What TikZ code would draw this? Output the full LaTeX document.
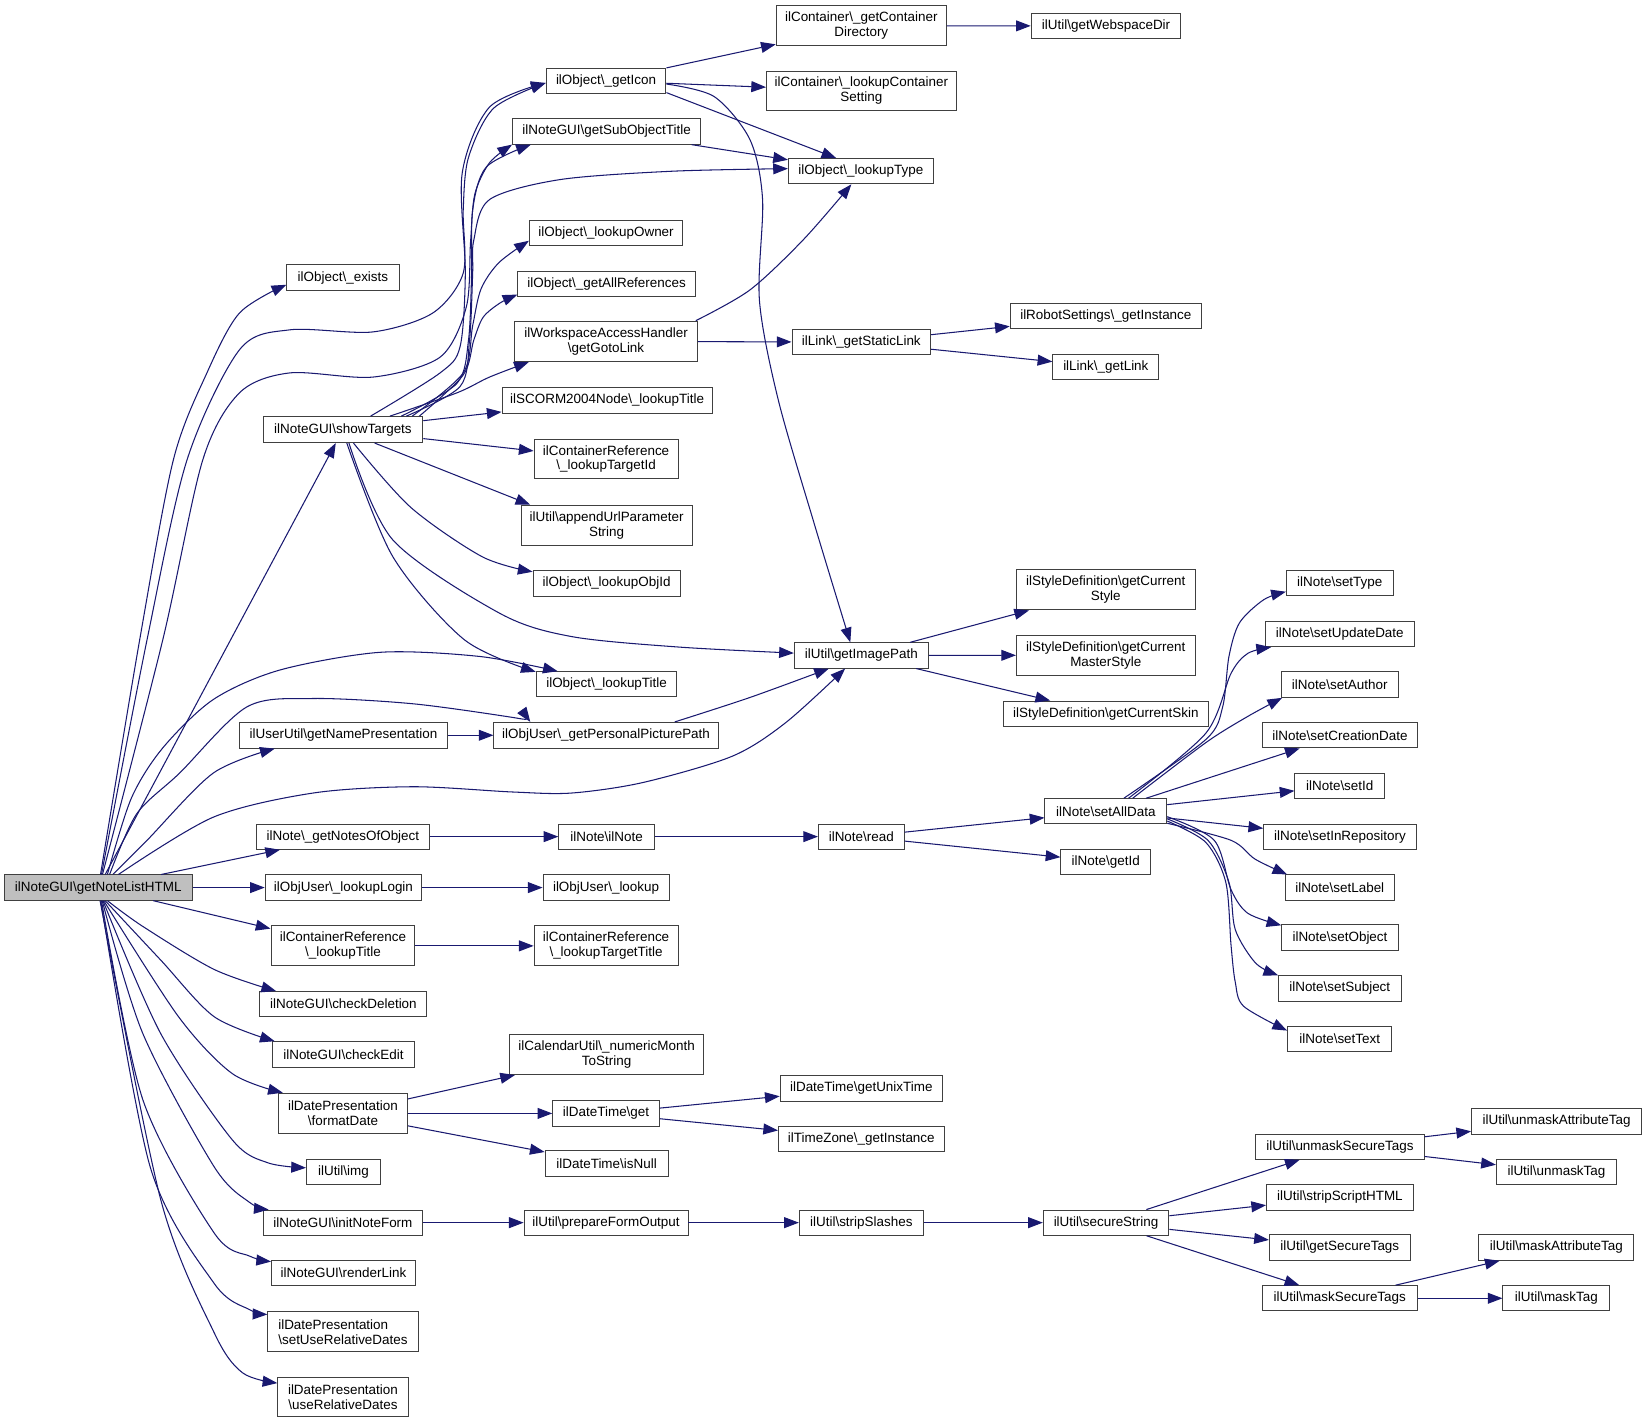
\documentclass[tikz,border=0pt]{standalone}
\usepackage{fontspec}
\setmainfont{Liberation Sans}
\usetikzlibrary{arrows.meta}
\definecolor{edgec}{HTML}{191970}
\definecolor{boxc}{HTML}{404040}
\definecolor{rootc}{HTML}{BFBFBF}
\tikzset{
 box/.style={draw=boxc, line width=0.7pt, fill=white, rectangle, inner sep=0pt, align=center, font=\fontsize{9.6}{10.7}\selectfont, text=black},
 edg/.style={draw=edgec, line width=0.75pt, -{Triangle[length=10.5pt,width=7.8pt]}},
}
\newcommand{\bx}[7][]{\node[box,minimum width=#5*0.75pt,minimum height=#6*0.75pt,#1] (#2) at (#3,#4) {#7};}
\begin{document}
\begin{tikzpicture}[x=0.75pt,y=-0.75pt]
\useasboundingbox (0,0) rectangle (1568,1356);
% column 0
\bx[fill=rootc]{G}{93.5}{845}{178.7}{24}{ilNoteGUI\textbackslash getNoteListHTML}
% column 1
\bx{ex}{326.5}{264.5}{107}{25}{ilObject\textbackslash\_exists}
\bx{ST}{326.5}{409}{152}{24.7}{ilNoteGUI\textbackslash showTargets}
\bx{NP}{327}{700}{198}{24.5}{ilUserUtil\textbackslash getNamePresentation}
\bx{NO}{326.5}{796.5}{164}{24}{ilNote\textbackslash\_getNotesOfObject}
\bx{LL}{327}{845}{149}{24}{ilObjUser\textbackslash\_lookupLogin}
\bx{CRT}{326.5}{900.5}{137}{38}{ilContainerReference\\\textbackslash\_lookupTitle}
\bx{CD}{327}{956}{159}{24}{ilNoteGUI\textbackslash checkDeletion}
\bx{CE}{327}{1004}{136}{24.5}{ilNoteGUI\textbackslash checkEdit}
\bx{FD}{326.5}{1060}{123}{38.5}{ilDatePresentation\\\textbackslash formatDate}
\bx{IMG}{327}{1115.5}{70.5}{24}{ilUtil\textbackslash img}
\bx{INF}{326.5}{1164}{152}{24}{ilNoteGUI\textbackslash initNoteForm}
\bx{RL}{327}{1212}{137}{24}{ilNoteGUI\textbackslash renderLink}
\bx[align=left]{SURD}{326.5}{1268}{143}{38}{ilDatePresentation\\\textbackslash setUseRelativeDates}
\bx{URD}{326.5}{1330}{124}{38}{ilDatePresentation\\\textbackslash useRelativeDates}
% column 2
\bx{GI}{577}{77}{114}{24}{ilObject\textbackslash\_getIcon}
\bx{GSOT}{577.5}{125}{179}{24.5}{ilNoteGUI\textbackslash getSubObjectTitle}
\bx{LO}{577}{221.5}{146}{24}{ilObject\textbackslash\_lookupOwner}
\bx{GAR}{577.5}{270}{169}{24}{ilObject\textbackslash\_getAllReferences}
\bx{GGL}{577}{325}{174}{38.5}{ilWorkspaceAccessHandler\\\textbackslash getGotoLink}
\bx{SC}{578}{381}{200}{24.5}{ilSCORM2004Node\textbackslash\_lookupTitle}
\bx{LTI}{577}{437}{137}{38}{ilContainerReference\\\textbackslash\_lookupTargetId}
\bx{AUP}{577.5}{500}{163}{38}{ilUtil\textbackslash appendUrlParameter\\String}
\bx{LOI}{577.5}{555.5}{140}{24}{ilObject\textbackslash\_lookupObjId}
\bx{LT}{577.5}{651.5}{134}{24}{ilObject\textbackslash\_lookupTitle}
\bx{PP}{577}{700}{213.5}{24.5}{ilObjUser\textbackslash\_getPersonalPicturePath}
\bx{NN}{577.5}{796.5}{91}{24}{ilNote\textbackslash ilNote}
\bx{OUL}{577}{845}{120}{24.5}{ilObjUser\textbackslash\_lookup}
\bx{LTT}{577}{900.5}{137}{38}{ilContainerReference\\\textbackslash\_lookupTargetTitle}
\bx{NM}{577.5}{1004}{185}{38}{ilCalendarUtil\textbackslash\_numericMonth\\ToString}
\bx{DTG}{577}{1060}{101.5}{24.5}{ilDateTime\textbackslash get}
\bx{DTN}{577.5}{1108}{117}{24.5}{ilDateTime\textbackslash isNull}
\bx{PFO}{577}{1164}{156}{24}{ilUtil\textbackslash prepareFormOutput}
% column 3
\bx{GCD}{820}{24.7}{162}{38}{ilContainer\textbackslash\_getContainer\\Directory}
\bx{LCS}{820}{86.6}{180.5}{38}{ilContainer\textbackslash\_lookupContainer\\Setting}
\bx{LTy}{819.6}{163}{138}{24}{ilObject\textbackslash\_lookupType}
\bx{GSL}{820}{325.7}{132}{24.5}{ilLink\textbackslash\_getStaticLink}
\bx{IP}{820}{624}{127.5}{24}{ilUtil\textbackslash getImagePath}
\bx{RD}{820}{796.5}{81.6}{24}{ilNote\textbackslash read}
\bx{GUT}{820}{1036}{154.5}{24.4}{ilDateTime\textbackslash getUnixTime}
\bx{TZ}{820}{1084}{157.6}{24}{ilTimeZone\textbackslash\_getInstance}
\bx{SSL}{820}{1164}{118}{24}{ilUtil\textbackslash stripSlashes}
% column 4
\bx{GWD}{1053}{24.6}{142.5}{24.4}{ilUtil\textbackslash getWebspaceDir}
\bx{RS}{1052.8}{301}{182}{24}{ilRobotSettings\textbackslash\_getInstance}
\bx{GL}{1052.8}{349.5}{101}{24.5}{ilLink\textbackslash\_getLink}
\bx{GCS}{1052.7}{561.5}{170}{38.3}{ilStyleDefinition\textbackslash getCurrent\\Style}
\bx{GCMS}{1052.7}{623.8}{170}{38.5}{ilStyleDefinition\textbackslash getCurrent\\MasterStyle}
\bx{GCSK}{1052.8}{679.6}{195}{24.4}{ilStyleDefinition\textbackslash getCurrentSkin}
\bx{SAD}{1052.8}{772.4}{116}{24}{ilNote\textbackslash setAllData}
\bx{GID}{1052.7}{820.5}{85.4}{24.3}{ilNote\textbackslash getId}
\bx{SS}{1053}{1164}{119.5}{24}{ilUtil\textbackslash secureString}
% column 5
\bx{STy}{1275.5}{555.2}{101.7}{24}{ilNote\textbackslash setType}
\bx{SUD}{1275.5}{603.5}{142}{24.5}{ilNote\textbackslash setUpdateDate}
\bx{SA}{1275.5}{651.7}{111}{24.4}{ilNote\textbackslash setAuthor}
\bx{SCD}{1275.7}{700}{148}{24}{ilNote\textbackslash setCreationDate}
\bx{SID}{1275.5}{748.2}{85.3}{24.4}{ilNote\textbackslash setId}
\bx{SIR}{1275.7}{796.5}{145.3}{24}{ilNote\textbackslash setInRepository}
\bx{SL}{1275.5}{845}{104}{24}{ilNote\textbackslash setLabel}
\bx{SO}{1275.7}{892.8}{110.8}{24.4}{ilNote\textbackslash setObject}
\bx{SSu}{1275.5}{941}{116.7}{24}{ilNote\textbackslash setSubject}
\bx{STx}{1275.5}{989.1}{99.4}{24.2}{ilNote\textbackslash setText}
\bx{UST}{1275.7}{1091.7}{160.3}{24}{ilUtil\textbackslash unmaskSecureTags}
\bx{SSH}{1275.7}{1139.7}{139.8}{24.5}{ilUtil\textbackslash stripScriptHTML}
\bx{GST}{1275.5}{1187.6}{134}{24.4}{ilUtil\textbackslash getSecureTags}
\bx{MST}{1275.5}{1236}{147.4}{24}{ilUtil\textbackslash maskSecureTags}
% column 6
\bx{UAT}{1481.9}{1067.5}{161.8}{24.8}{ilUtil\textbackslash unmaskAttributeTag}
\bx{UT}{1481.8}{1115.5}{114.4}{24}{ilUtil\textbackslash unmaskTag}
\bx{MAT}{1481.7}{1187.6}{147.4}{24.4}{ilUtil\textbackslash maskAttributeTag}
\bx{MT}{1481.7}{1236}{101.7}{24}{ilUtil\textbackslash maskTag}

% ---------- edges from getNoteListHTML ----------
\draw[edg] plot[smooth] coordinates {(G.80) (133,609) (165,438) (197,355) (228,298) (ex.187)};
\draw[edg] plot[smooth] coordinates {(G.76) (140,609) (178,438) (228,333) (276,314) (355,316) (412,298) (441,260) (441,200) (446,150) (470,103) (GI.182)};
\draw[edg] plot[smooth] coordinates {(G.72) (155,609) (193,438) (228,374) (276,355) (355,359) (419,340) (444,292) (448,230) (452,185) (466,155) (GSOT.188)};
\draw[edg] (G) -- (ST);
\draw[edg] plot[smooth] coordinates {(G.55) (125,760) (155,712) (203,666) (266,638) (362,621) (457,625) (LT.165)};
\draw[edg] plot[smooth] coordinates {(G.49) (130,775) (171,736) (235,673) (298,665) (393,670) (488,683) (PP.170)};
\draw[edg] plot[smooth] coordinates {(G.42) (140,800) (203,736) (NP.191)};
\draw[edg] plot[smooth] coordinates {(G.33) (203,778) (298,755) (393,749) (488,754) (544,755) (612,745) (697,720) (748,688) (IP.219)};
\draw[edg] (G) -- (NO);
\draw[edg] (G) -- (LL);
\draw[edg] (G) -- (CRT);
\draw[edg] plot[smooth] coordinates {(G.305) (136,882) (204,923) (CD.169)};
\draw[edg] plot[smooth] coordinates {(G.298) (153,914) (204,968) (CE.169)};
\draw[edg] plot[smooth] coordinates {(G.293) (170,968) (221,1022) (FD.161)};
\draw[edg] plot[smooth] coordinates {(G.290) (153,984) (221,1085) (255,1107) (IMG.174)};
\draw[edg] plot[smooth] coordinates {(G.287) (136,984) (204,1111) (238,1145) (INF.170)};
\draw[edg] plot[smooth] coordinates {(G.284) (136,1047) (204,1174) (238,1196) (RL.171)};
\draw[edg] plot[smooth] coordinates {(G.281) (143,1111) (204,1222) (238,1247) (SURD.167)};
\draw[edg] plot[smooth] coordinates {(G.278) (153,1142) (204,1269) (231,1307) (URD.168)};

% ---------- edges from showTargets ----------
\draw[edg] plot[smooth] coordinates {(ST.26) (419,355) (438,330) (443,260) (440,165) (466,102) (GI.182)};
\draw[edg] plot[smooth] coordinates {(ST.13) (435,365) (446,324) (449,260) (450,200) (463,159) (GSOT.190)};
\draw[edg] plot[smooth] coordinates {(ST.12) (438,368) (447,324) (450,260) (451,229) (466,190) (533,171) (640,163) (LTy.178)};
\draw[edg] plot[smooth] coordinates {(ST.11) (441,355) (450,310) (458,275) (475,250) (LO.186)};
\draw[edg] plot[smooth] coordinates {(ST.10) (441,357) (451,324) (460,302) (476,288.5) (GAR.187)};
\draw[edg] plot[smooth] coordinates {(ST.16) (435,374) (466,359) (GGL.195)};
\draw[edg] (ST) -- (SC);
\draw[edg] (ST) -- (LTI);
\draw[edg] (ST.337) -- (AUP.165);
\draw[edg] plot[smooth] coordinates {(ST.308) (391,483) (459,530) (LOI.171)};
\draw[edg] plot[smooth] coordinates {(ST.294) (374,514) (476,584) (544,606) (646,616) (IP.178)};
\draw[edg] plot[smooth] coordinates {(ST.286) (374,530) (442,609) (LT.170)};

% ---------- other edges ----------
\draw[edg] (GI) -- (GCD);
\draw[edg] (GI) -- (LCS);
\draw[edg] (GI.349) -- (LTy.152);
\draw[edg] plot[smooth] coordinates {(GI.357) (680,92) (714,133) (726,190) (723,286) (741,381) (775,498) (IP.130)};
\draw[edg] (GSOT) -- (LTy);
\draw[edg] (GCD) -- (GWD);
\draw[edg] plot[smooth] coordinates {(GGL.13) (714,276) (765,228) (LTy.234)};
\draw[edg] (GGL) -- (GSL);
\draw[edg] (GSL) -- (RS);
\draw[edg] (GSL) -- (GL);
\draw[edg] (IP) -- (GCS);
\draw[edg] (IP) -- (GCMS);
\draw[edg] (IP) -- (GCSK);
\draw[edg] plot[smooth] coordinates {(PP.11) (714,664) (IP.202)};
\draw[edg] (NP) -- (PP);
\draw[edg] (NO) -- (NN);
\draw[edg] (NN) -- (RD);
\draw[edg] (RD) -- (SAD);
\draw[edg] (RD) -- (GID);
\draw[edg] plot[smooth] coordinates {(SAD.36) (1148,704) (1164,673) (1170,625) (1180,593) (1203,571) (STy.189)};
\draw[edg] plot[smooth] coordinates {(SAD.30) (1148,698) (1172,641) (1188,622) (SUD.191)};
\draw[edg] plot[smooth] coordinates {(SAD.26) (1148,707) (1188,682) (SA.193)};
\draw[edg] (SAD) -- (SCD);
\draw[edg] (SAD) -- (SID);
\draw[edg] (SAD) -- (SIR);
\draw[edg] plot[smooth] coordinates {(SAD.349) (1172,800) (1195,818) (SL.166)};
\draw[edg] plot[smooth] coordinates {(SAD.355) (1156,800) (1172,847) (1188,869.5) (SO.168)};
\draw[edg] plot[smooth] coordinates {(SAD.353) (1150,800) (1170,840) (1176,885) (1195.5,917) (SSu.168)};
\draw[edg] plot[smooth] coordinates {(SAD.351) (1148,802) (1167,840) (1172,900) (1176,935) (1184,958) (STx.171)};
\draw[edg] (LL) -- (OUL);
\draw[edg] (CRT) -- (LTT);
\draw[edg] (FD) -- (NM);
\draw[edg] (FD) -- (DTG);
\draw[edg] (FD) -- (DTN);
\draw[edg] (DTG) -- (GUT);
\draw[edg] (DTG) -- (TZ);
\draw[edg] (INF) -- (PFO);
\draw[edg] (PFO) -- (SSL);
\draw[edg] (SSL) -- (SS);
\draw[edg] (SS) -- (UST);
\draw[edg] (SS) -- (SSH);
\draw[edg] (SS) -- (GST);
\draw[edg] (SS) -- (MST);
\draw[edg] (UST) -- (UAT);
\draw[edg] (UST) -- (UT);
\draw[edg] (MST) -- (MAT);
\draw[edg] (MST) -- (MT);
\end{tikzpicture}
\end{document}
